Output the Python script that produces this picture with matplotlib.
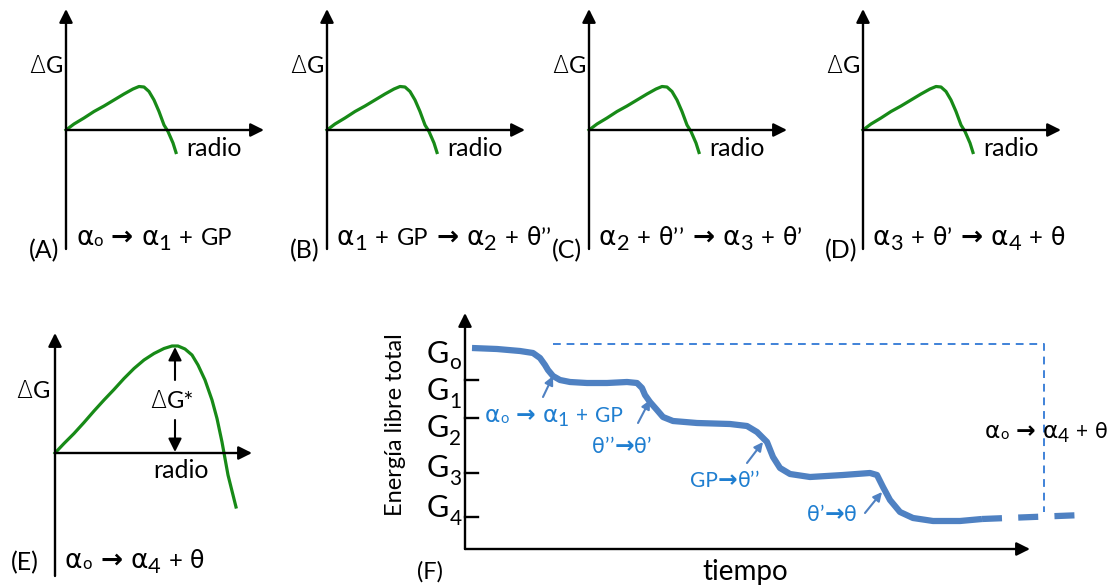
import matplotlib
matplotlib.use("Agg")
import matplotlib.pyplot as plt
from matplotlib.transforms import Affine2D, offset_copy

plt.rcParams['font.family'] = ['Lato', 'DejaVu Sans']

W, H = 1115, 586

# nucleation barrier, small panels (radio, dG)
small_r = [0, 8, 18, 28, 38, 48, 58, 67, 73, 78, 83, 88, 93, 98, 102, 107, 110]
small_dg = [0, 6, 12, 18.5, 24, 30, 36, 41, 43.5, 43, 38.5, 30, 18.5, 5, -1.5, -13, -22.5]
# nucleation barrier, panel E
big_r = [0, 9, 19, 29, 39, 49, 59, 69, 79, 89, 99, 109, 117, 123, 130, 137, 143,
         150, 157, 162, 167, 169, 173, 178, 181]
big_dg = [0, 9.5, 19.5, 30.5, 42, 53, 63.5, 74.5, 84.5, 93, 99.5, 104.5, 107, 107,
          104, 98, 88, 73, 53, 34.5, 11, 0, -22, -42, -54]

small_letters = ['(A)', '(B)', '(C)', '(D)']
small_eqs = ['α_o → α_1 + GP',
             'α_1 + GP → α_2 + θ’’',
             'α_2 + θ’’ → α_3 + θ’',
             'α_3 + θ’ → α_4 + θ']

# panel F: total free energy vs time
t_curve = [7, 32, 55, 68, 75, 80, 83, 88, 95, 105, 122, 142, 162, 172, 177, 180, 185,
           192, 198, 208, 232, 265, 282, 292, 302, 308, 315, 325, 345, 378, 405, 412,
           418, 425, 435, 448, 468, 495, 517]
e_curve = [201, 200, 198, 196, 191, 184, 179, 173, 169, 167, 166, 166, 167, 166, 161,
           154, 147, 139, 132, 128, 126, 125, 123, 117, 107, 92, 81, 75, 72, 74, 76, 74,
           62, 49, 37, 31, 28, 28, 30]
t_tail = [517, 618]
e_tail = [30, 34]
t_direct = [88, 579, 579]
e_direct = [205, 205, 37]
level_names = ['G_o', 'G_1', 'G_2', 'G_3', 'G_4']
level_label_e = [186, 149, 112, 72, 32]
level_ticks = [169, 131, 76, 32]

step_labels = ['α_o → α_1 + GP', 'θ’’→θ’', 'GP→θ’’', 'θ’→θ']
step_text_t = [20, 127, 225, 342]
step_text_e = [127, 96, 62, 28]
step_tail_t = [78, 173, 282, 400]
step_tail_e = [152, 126, 86, 36]
step_head_t = [88, 185, 298, 417]
step_head_e = [173, 149, 107, 57]

GREEN = '#178a17'
BLUE_LINE = '#4f81c2'
BLUE_TXT = '#1f7ed0'

fig = plt.figure(figsize=(W / 100, H / 100), dpi=100)
ax = fig.add_axes([0, 0, 1, 1])
ax.set_xlim(0, W)
ax.set_ylim(H, 0)
ax.axis('off')
renderer = fig.canvas.get_renderer()


def local(ox, oy):
    # panel coordinates: origin at the axes corner, y pointing up
    return Affine2D().scale(1, -1).translate(ox, oy) + ax.transData


def axis_arrow(T, start, end, lw=1.7, color='black', ms=20):
    ax.annotate('', xy=end, xytext=start, xycoords=T, textcoords=T,
                arrowprops=dict(arrowstyle='-|>', lw=lw, color=color,
                                mutation_scale=ms, shrinkA=0, shrinkB=0))


def tokens(s):
    out = []
    i = 0
    while i < len(s):
        c = s[i]
        if c == '_':
            out.append(('sub_o' if s[i + 1] == 'o' else 'sub', s[i + 1]))
            i += 2
            continue
        if c == ' ':
            out.append(('gap', ''))
        elif c == 'α':
            out.append(('alpha', c))
        elif c == 'θ':
            out.append(('theta', c))
        elif c == 'Δ':
            out.append(('delta', c))
        elif c == '→':
            out.append(('arrow', c))
        elif c == '’':
            out.append(('prime', c))
        elif out and out[-1][0] == 'txt':
            out[-1] = ('txt', out[-1][1] + c)
        else:
            out.append(('txt', c))
        i += 1
    return out


def seq_text(T, x, y, s, size=17, color='black', ha='left', sub=(0.92, -5), sub_o=(0.7, -1)):
    # lay out a formula piece by piece so greek letters and subscripts get their own size
    styles = {
        'txt': (['Lato', 'DejaVu Sans'], 1.0, 0, 'normal'),
        'prime': (['Lato'], 1.0, 0, 'normal'),
        'alpha': (['DejaVu Sans'], 1.12, 0, 'normal'),
        'theta': (['DejaVu Sans'], 1.0, 0, 'normal'),
        'delta': (['DejaVu Sans'], 1.0, 0, 'light'),
        'arrow': (['DejaVu Sans'], 1.12, 0, 'bold'),
        'sub': (['Lato'], sub[0], sub[1], 'normal'),
        'sub_o': (['Lato'], sub_o[0], sub_o[1], 'normal'),
    }
    k = size / 17.0
    items = []
    cursor = 0.0
    for kind, ch in tokens(s):
        if kind == 'gap':
            cursor += 8 * k
            continue
        fam, sc, dy, wt = styles[kind]
        tr = offset_copy(T, fig=fig, x=cursor, y=dy * k, units='dots')
        t = ax.text(x, y, ch, transform=tr, fontsize=size * sc, family=fam,
                    weight=wt, color=color, ha='left', va='baseline')
        items.append((t, cursor, dy * k))
        cursor += t.get_window_extent(renderer).width
        if kind == 'prime':
            cursor += 0.5 * k
    if ha != 'left':
        shift = cursor if ha == 'right' else cursor / 2
        for t, c, dy in items:
            t.set_transform(offset_copy(T, fig=fig, x=c - shift, y=dy, units='dots'))


# panels A-D
for i, ox in enumerate([66, 327, 589, 863]):
    T = local(ox, 130)
    axis_arrow(T, (0, -119), (0, 121))
    axis_arrow(T, (0, 0), (198, 0))
    ax.plot(small_r, small_dg, color=GREEN, lw=2.3, transform=T)
    seq_text(T, -3, 57, 'ΔG', ha='right')
    ax.text(120, -26, 'radio', transform=T, ha='left', va='baseline', fontsize=18)
    seq_text(T, 10, -115, small_eqs[i])
    ax.text(-22, -121, small_letters[i], transform=T, ha='center', va='center', fontsize=18)

# panel E
T = local(55, 453)
axis_arrow(T, (0, -123), (0, 120))
axis_arrow(T, (0, 0), (197, 0))
ax.plot(big_r, big_dg, color=GREEN, lw=2.3, transform=T)
seq_text(T, -5, 55, 'ΔG', ha='right')
axis_arrow(T, (120, 73), (120, 106), lw=1.5)
axis_arrow(T, (120, 33), (120, 1), lw=1.5)
seq_text(T, 117, 45, 'ΔG*', ha='center')
ax.text(98, -25, 'radio', transform=T, ha='left', va='baseline', fontsize=18)
seq_text(T, 10, -115, 'α_o → α_4 + θ')
ax.text(-30, -110, '(E)', transform=T, ha='center', va='center', fontsize=18)

# panel F
T = local(465, 549)
axis_arrow(T, (0, 0), (0, 236))
axis_arrow(T, (0, 0), (565, 0))
for e in level_ticks:
    ax.plot([0, 13], [e, e], color='black', lw=1.7, transform=T)
for name, e in zip(level_names, level_label_e):
    seq_text(T, -38, e, name, size=22, sub=(0.68, -6), sub_o=(0.68, -5))
ax.text(-70, 124, 'Energía libre total', transform=T, rotation=90,
        ha='center', va='center', fontsize=17)
ax.text(-35, -23, '(F)', transform=T, ha='center', va='center', fontsize=17)
ax.text(280, -23, 'tiempo', transform=T, ha='center', va='center', fontsize=20)

ax.plot(t_direct, e_direct, color='#3f82d8', lw=1.4, dashes=(4, 3), transform=T)
ax.plot(t_curve, e_curve, color=BLUE_LINE, lw=4.5, transform=T,
        solid_capstyle='butt', solid_joinstyle='round')
ax.plot(t_tail, e_tail, color=BLUE_LINE, lw=4.5, dashes=(3.2, 2.6), transform=T)

for s, tx, ex, t0, e0, t1, e1 in zip(step_labels, step_text_t, step_text_e,
                                     step_tail_t, step_tail_e, step_head_t, step_head_e):
    seq_text(T, tx, ex, s, size=15, color=BLUE_TXT)
    axis_arrow(T, (t0, e0), (t1, e1), lw=1.5, color=BLUE_LINE, ms=13)

seq_text(T, 520, 111, 'α_o → α_4 + θ', size=15)

fig.savefig('out.png', dpi=100)
